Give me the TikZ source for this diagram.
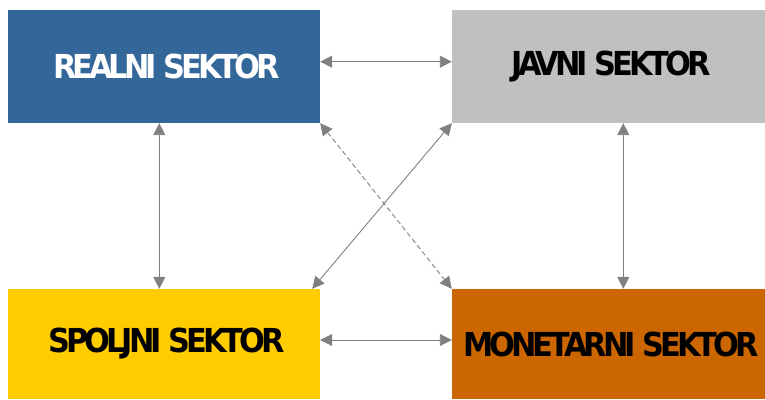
\documentclass[tikz,border=0pt]{standalone}
\usepackage{fontspec}
\newfontfamily\sektorfont{DejaVu Sans}[FakeStretch=0.92,LetterSpace=-12]
\usetikzlibrary{arrows.meta}
\definecolor{realblue}{HTML}{336699}
\definecolor{javnigray}{HTML}{C0C0C0}
\definecolor{spoljniyellow}{HTML}{FFCC00}
\definecolor{monetorange}{HTML}{CC6600}
\newcommand{\sektortekst}[1]{\raisebox{-5pt}{\hspace*{5pt}#1}}
\tikzset{
  sektor/.style={rectangle, inner sep=0pt, minimum width=312pt,
    font=\sektorfont\bfseries\fontsize{33}{33}\selectfont},
  veza/.style={draw=gray, line width=0.9pt,
    {Triangle[length=12pt,width=12pt]}-{Triangle[length=12pt,width=12pt]}}
}
\begin{document}
\begin{tikzpicture}[x=1pt,y=1pt]
  \useasboundingbox (0,0) rectangle (765,399);
  % Déclaration des secteurs
  \node[sektor, fill=realblue, text=white, minimum height=113pt] (realni) at (164,332.5) {\sektortekst{REALNI SEKTOR}};
  \node[sektor, fill=javnigray, minimum width=313pt, minimum height=113pt] (javni) at (608.5,332.5) {\sektortekst{JAVNI SEKTOR}};
  \node[sektor, fill=spoljniyellow, minimum height=110pt] (spoljni) at (164,55) {\sektortekst{SPOLJNI SEKTOR}};
  \node[sektor, fill=monetorange, minimum width=313pt, minimum height=110pt] (monetarni) at (608.5,55) {\sektortekst{MONETARNI SEKTOR}};

  % Veze između sektora
  \draw[veza] ([yshift=4.8pt]realni.east) -- ([yshift=4.8pt]javni.west);
  \draw[veza] ([yshift=4pt]spoljni.east) -- ([yshift=4pt]monetarni.west);
  \draw[veza] ([xshift=-4.7pt]realni.south) -- ([xshift=-4.7pt]spoljni.north);
  \draw[veza] ([xshift=14.8pt]javni.south) -- ([xshift=14.8pt]monetarni.north);
  \draw[veza] (javni.south west) -- ([xshift=-8pt]spoljni.north east);
  \draw[veza, dash pattern=on 5pt off 3pt] (realni.south east) -- (monetarni.north west);
\end{tikzpicture}
\end{document}
